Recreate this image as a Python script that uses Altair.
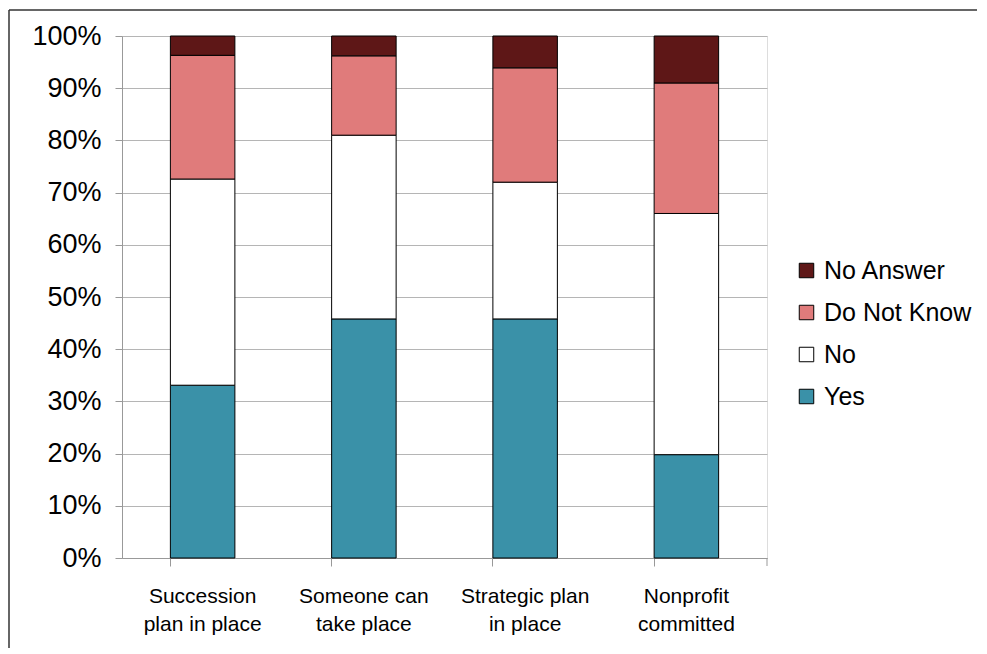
import altair as alt
import pandas as pd

categories = ["Succession|plan in place", "Someone can|take place", "Strategic plan|in place", "Nonprofit|committed"]
series = ["Yes", "No", "Do Not Know", "No Answer"]
yes = [33.1, 45.8, 45.8, 19.8]
no = [39.5, 35.2, 26.2, 46.2]
dnk = [23.7, 15.2, 21.9, 25.0]
na = [3.7, 3.8, 6.1, 9.0]
colors = {"No Answer": "#5E1717", "Do Not Know": "#E07B7B", "No": "#FFFFFF", "Yes": "#3A91A8"}
y_ticks = [0, 10, 20, 30, 40, 50, 60, 70, 80, 90, 100]

rows = []
for i, c in enumerate(categories):
    for k, (s, vals) in enumerate(zip(series, [yes, no, dnk, na])):
        rows.append({"category": c, "series": s, "value": vals[i], "rank": k})
df = pd.DataFrame(rows)

legend_order = ["No Answer", "Do Not Know", "No", "Yes"]
FONT = "Liberation Sans"
W, H = 645, 522

bars = alt.Chart(df).mark_bar(stroke="black", strokeWidth=1).encode(
    x=alt.X("category:N", sort=categories, title=None,
            scale=alt.Scale(paddingInner=0.6, paddingOuter=0.3),
            axis=alt.Axis(labelExpr="split(datum.value, '|')", labelAngle=0,
                          labelFontSize=21, labelLineHeight=28, labelPadding=19,
                          labelColor="black", labelFont=FONT,
                          bandPosition=0, tickSize=8, tickColor="#999999",
                          domainColor="#999999", grid=False, labelBaseline="top")),
    y=alt.Y("value:Q", stack="zero", title=None,
            scale=alt.Scale(domain=[0, 100]),
            axis=alt.Axis(values=y_ticks, labelExpr="datum.value + '%'",
                          labelFontSize=27, labelFont=FONT, labelColor="black",
                          labelPadding=14, tickSize=7, tickColor="#999999",
                          domainColor="#999999", gridColor="#b5b5b5")),
    color=alt.Color("series:N",
                    scale=alt.Scale(domain=legend_order, range=[colors[s] for s in legend_order]),
                    legend=alt.Legend(title=None, orient="none", legendX=672, legendY=222,
                                      symbolType="square", symbolSize=210,
                                      symbolStrokeColor="black", symbolStrokeWidth=1,
                                      labelFontSize=25, labelFont=FONT, labelColor="black",
                                      rowPadding=16, labelOffset=5)),
    order=alt.Order("rank:Q", sort="ascending"),
)

one = pd.DataFrame({"a": [0]})
end_tick = alt.Chart(one).mark_rule(color="#999999").encode(
    x=alt.value(W), y=alt.value(H), y2=alt.value(H + 8))
frame_top = alt.Chart(one).mark_rule(color="#666666", strokeWidth=2).encode(
    x=alt.value(-113), x2=alt.value(900), y=alt.value(-26))
frame_left = alt.Chart(one).mark_rule(color="#333333", strokeWidth=1.5).encode(
    x=alt.value(-113), y=alt.value(-26), y2=alt.value(700))

chart = alt.layer(bars, end_tick, frame_top, frame_left).properties(
    width=W, height=H,
    autosize=alt.AutoSizeParams(type="none"),
    padding={"left": 114, "top": 28, "right": 210, "bottom": 90},
).configure_view(stroke=None).configure(font=FONT)

chart.save("out.html", embed_options={"renderer": "svg", "actions": False})
